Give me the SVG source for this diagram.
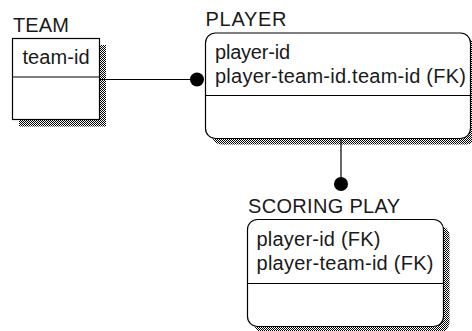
<svg xmlns="http://www.w3.org/2000/svg" width="472" height="331" viewBox="0 0 472 331">
  <defs>
    <pattern id="dither" width="2" height="2" patternUnits="userSpaceOnUse">
      <rect width="2" height="2" fill="#ffffff"/>
      <rect width="1" height="1" fill="#000000"/>
      <rect x="1" y="1" width="1" height="1" fill="#000000"/>
    </pattern>
  </defs>
  <style>
    .box { fill: #ffffff; stroke: #000000; stroke-width: 1.2; }
    .shadow { fill: url(#dither); stroke: none; }
    .div { stroke: #000000; stroke-width: 1.2; }
    .conn { stroke: #000000; stroke-width: 1.2; fill: none; }
    .dot { fill: #000000; }
    text { font-family: "Liberation Sans", Arial, sans-serif; font-size: 20px; fill: #1a1a1a; }
  </style>
  <rect width="472" height="331" fill="#ffffff"/>

  <g id="team">
    <text x="13" y="32" textLength="56" lengthAdjust="spacing">TEAM</text>
    <rect class="shadow" x="19" y="45" width="87" height="81.5"/>
    <rect class="box" x="12.5" y="38.5" width="87" height="81"/>
    <line class="div" x1="12.5" y1="77" x2="99.5" y2="77"/>
    <text x="22.5" y="64" textLength="67" lengthAdjust="spacing">team-id</text>
  </g>

  <g id="player">
    <text x="205.5" y="26" textLength="81" lengthAdjust="spacing">PLAYER</text>
    <rect class="shadow" x="211.5" y="39" width="265" height="105.5" rx="10"/>
    <rect class="box" x="205.5" y="33" width="265" height="105.5" rx="10"/>
    <line class="div" x1="205.5" y1="95.5" x2="470.5" y2="95.5"/>
    <text x="215" y="59" textLength="75" lengthAdjust="spacing">player-id</text>
    <text x="215" y="83" textLength="251" lengthAdjust="spacing">player-team-id.team-id (FK)</text>
  </g>

  <g id="scoring-play">
    <text x="248" y="213" textLength="152" lengthAdjust="spacing">SCORING PLAY</text>
    <rect class="shadow" x="253.5" y="225.5" width="196" height="107" rx="10"/>
    <rect class="box" x="247.5" y="219.5" width="196" height="107" rx="10"/>
    <line class="div" x1="247.5" y1="283.5" x2="443.5" y2="283.5"/>
    <text x="256.5" y="246" textLength="124" lengthAdjust="spacing">player-id (FK)</text>
    <text x="256.5" y="269.5" textLength="177" lengthAdjust="spacing">player-team-id (FK)</text>
  </g>

  <g id="connectors">
    <line class="conn" x1="99.5" y1="79.5" x2="197" y2="79.5"/>
    <circle class="dot" cx="197" cy="79.5" r="7"/>
    <line class="conn" x1="341" y1="138.5" x2="341" y2="184"/>
    <circle class="dot" cx="341" cy="184" r="7"/>
  </g>
</svg>
